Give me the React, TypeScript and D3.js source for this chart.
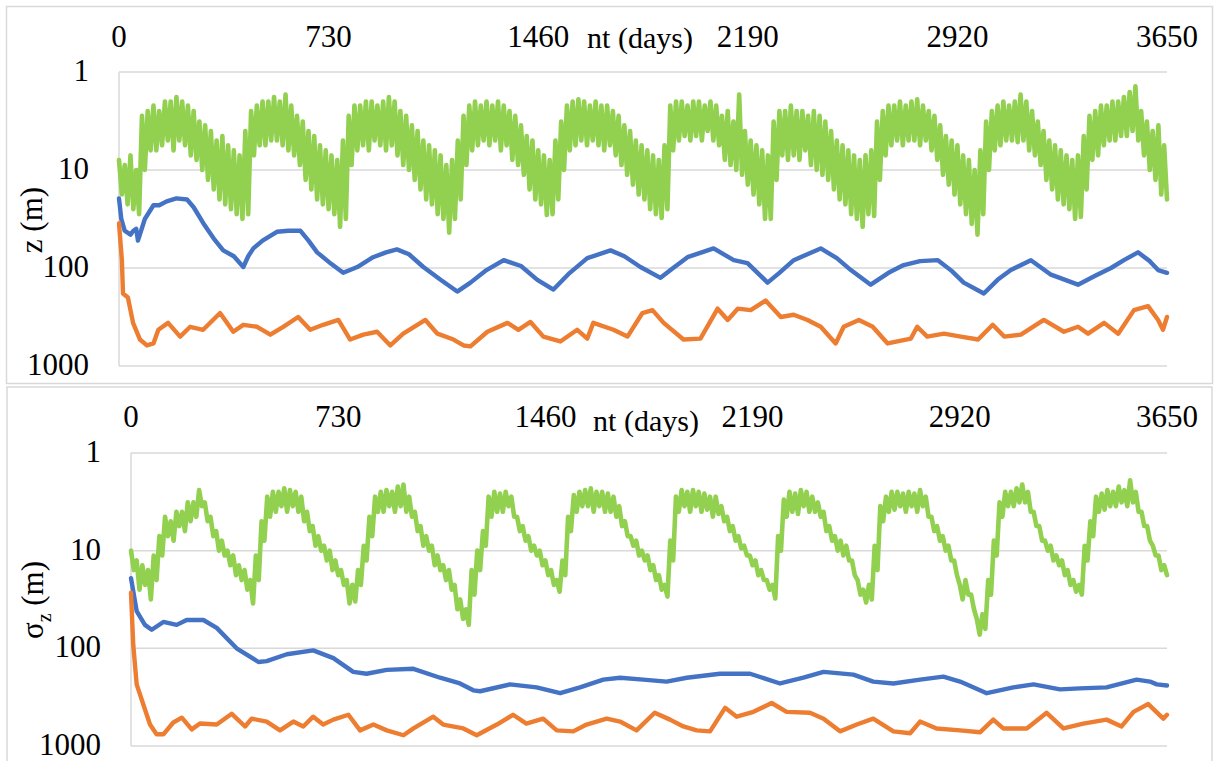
import React from "react";
import * as d3 from "d3";

// x axis (days) and y axis (m, log, reversed)
const xTicks = [0, 730, 1460, 2190, 2920, 3650];
const yTicks = [1, 10, 100, 1000];
const greenStep = 10; // green series read every 10 days (0..3650)

// ---- top panel: z (m) ----
const zGreen = [
  7.9, 17.8, 8.9, 22.4, 7.1, 25.1, 10, 28.2, 2.8, 10, 2.5, 6.3, 2.2, 6.3, 2.5, 5.6, 2.0, 5.0, 2.0, 6.3,
  1.8, 5.0, 2.0, 5.6, 2.2, 7.1, 2.5, 7.9, 3.2, 10, 3.5, 12.6, 4.0, 15.8, 5.0, 20, 4.5, 22.4, 5.6, 25.1,
  6.3, 28.2, 7.1, 31.6, 4.0, 28.2, 2.5, 7.1, 2.2, 5.6, 2.0, 5.6, 2.0, 5.0, 1.8, 5.0, 2.0, 5.6, 1.7, 6.3,
  2.2, 7.1, 2.8, 8.9, 3.2, 12.6, 4.0, 15.8, 4.5, 20, 5.6, 22.4, 6.3, 25.1, 7.1, 28.2, 7.9, 38, 5.0, 31.6,
  2.8, 8.9, 2.2, 6.3, 2.2, 5.6, 2.0, 6.3, 2.0, 5.0, 2.2, 5.6, 2.0, 6.3, 1.8, 5.6, 2.0, 7.1, 2.5, 8.9,
  2.8, 10, 3.5, 12.6, 4.0, 15.8, 5.0, 20, 5.6, 22.4, 6.3, 28.2, 7.1, 31.6, 8.9, 43.7, 7.9, 31.6, 5.0, 20,
  2.8, 8.9, 2.2, 6.3, 2.0, 5.6, 2.2, 5.0, 2.0, 5.6, 2.2, 5.0, 2.0, 6.3, 2.2, 5.6, 2.5, 7.9, 2.8, 8.9,
  3.5, 11.2, 4.5, 15.8, 5.0, 20, 6.3, 22.4, 7.1, 28.8, 7.9, 28.2, 5.0, 20, 3.2, 10, 2.2, 6.3, 2.0, 5.6,
  1.9, 5.0, 2.0, 5.6, 2.2, 5.0, 2.0, 5.6, 2.2, 6.3, 2.2, 5.6, 2.5, 7.1, 2.8, 8.9, 3.5, 11.2, 4.0, 14.1,
  5.0, 17.8, 5.6, 20, 6.3, 25.1, 7.1, 28.2, 7.9, 30.9, 5.6, 25.1, 2.2, 6.3, 2.0, 5.0, 2.0, 4.5, 2.2, 5.0,
  2.0, 4.5, 2.0, 5.0, 2.2, 4.0, 2.0, 5.0, 2.2, 5.6, 2.8, 7.9, 2.5, 8.9, 3.2, 10, 1.7, 11.2, 4.0, 14.1,
  5.0, 17.8, 5.6, 22.4, 6.3, 31.6, 7.1, 31.6, 3.2, 12.6, 2.5, 7.1, 2.5, 7.9, 2.2, 7.1, 2.5, 7.9, 2.5, 6.3,
  2.8, 8.9, 2.5, 10, 2.8, 11.2, 3.2, 12.6, 4.0, 15.8, 5.0, 20, 5.6, 22.4, 6.3, 28.2, 7.1, 31.6, 7.9, 38,
  7.1, 28.2, 6.3, 29.5, 3.2, 12.6, 2.5, 7.1, 2.2, 5.6, 2.2, 5.0, 2.0, 5.6, 2.2, 5.0, 2.0, 5.0, 1.9, 5.6,
  2.2, 5.0, 2.5, 6.3, 2.8, 7.9, 3.5, 11.2, 4.5, 14.1, 5.0, 17.8, 5.6, 22.4, 7.1, 28.2, 7.9, 35.5, 10, 45.7,
  6.3, 28.2, 3.2, 10, 2.5, 6.3, 2.2, 5.6, 2.0, 5.0, 2.2, 5.0, 2.0, 5.2, 1.7, 5.0, 2.0, 6.3, 2.5, 7.1,
  3.2, 8.9, 4.0, 12.6, 5.0, 15.8, 5.6, 20, 6.3, 22.4, 7.1, 25.1, 7.9, 31.6, 7.1, 30.2, 4.5, 15.8, 2.8, 7.9,
  2.5, 7.1, 2.2, 5.6, 2.2, 5.0, 2.0, 5.0, 2.0, 4.5, 1.8, 4.5, 1.6, 4.0, 1.4, 5.0, 2.5, 7.1, 3.2, 10,
  4.0, 12.6, 3.5, 17.8, 5.6, 20,
];

const zBlueDays = [
  0, 8, 20, 40, 50, 60, 66, 90, 120, 140, 166, 200, 237, 260, 293, 330, 363, 400, 433, 450,
  468, 500, 550, 590, 632, 660, 690, 740, 781, 830, 885, 930, 968, 1010, 1060, 1120, 1178, 1224, 1280, 1340,
  1400, 1457, 1513, 1570, 1631, 1712, 1760, 1816, 1886, 1930, 1980, 2071, 2141, 2189, 2259, 2300, 2350, 2444, 2500, 2549,
  2618, 2680, 2733, 2790, 2852, 2900, 2942, 3012, 3060, 3106, 3176, 3246, 3340, 3400, 3455, 3500, 3549, 3590, 3619, 3650,
];
const zBlue = [
  19.5, 31.6, 41.7, 45.7, 41.7, 39.8, 52.5, 31.6, 22.9, 22.9, 20.9, 19.5, 20, 24, 34.7, 50.1, 66.1, 75.9, 97.7, 75.9,
  63.1, 52.5, 42.7, 41.7, 41.7, 52.5, 69.2, 91.2, 112, 97.7, 77.6, 69.2, 64.6, 72.4, 97.7, 132, 174, 141, 105, 83.2,
  95.5, 132, 166, 112, 79.4, 66.1, 75.9, 97.7, 126, 100, 77.6, 63.1, 83.2, 89.1, 141, 112, 83.2, 63.1, 79.4, 105,
  148, 112, 93.3, 85.1, 83.2, 107, 141, 182, 132, 105, 83.2, 117, 148, 120, 100, 83.2, 69.2, 85.1, 105, 112,
];

const zOrangeDays = [
  0, 10, 14, 31, 49, 73, 97, 120, 137, 171, 213, 248, 293, 352, 398, 433, 481, 527, 572, 624,
  666, 711, 764, 805, 851, 899, 945, 990, 1067, 1109, 1165, 1200, 1224, 1283, 1353, 1391, 1433, 1478, 1537, 1596,
  1631, 1652, 1722, 1771, 1823, 1858, 1897, 1966, 2025, 2085, 2120, 2155, 2200, 2252, 2305, 2350, 2398, 2444, 2496, 2524,
  2577, 2625, 2677, 2758, 2780, 2815, 2873, 2932, 2992, 3043, 3083, 3141, 3221, 3291, 3340, 3375, 3431, 3480, 3535, 3584,
  3619, 3636, 3650,
];
const zOrange = [
  35, 83, 182, 200, 363, 537, 617, 589, 427, 363, 501, 398, 427, 288, 447, 380, 398, 479, 398, 316,
  427, 380, 339, 537, 479, 447, 617, 468, 339, 468, 537, 617, 631, 447, 363, 427, 355, 501, 562, 427,
  525, 363, 427, 501, 288, 269, 363, 537, 525, 260, 339, 260, 269, 215, 316, 300, 339, 398, 589, 398,
  339, 398, 589, 525, 398, 501, 468, 501, 537, 380, 501, 479, 339, 447, 398, 468, 363, 468, 269, 245,
  339, 427, 316,
];

// ---- bottom panel: sigma_z (m) ----
const sGreen = [
  10, 15.8, 12.6, 25.1, 14.1, 22.4, 15.8, 31.6, 11.2, 20, 7.1, 11.2, 4.5, 7.1, 5.0, 7.9, 4.0, 5.6, 4.0, 6.3,
  3.2, 5.0, 3.2, 4.5, 2.4, 3.5, 3.2, 5.0, 4.5, 7.1, 6.3, 10, 7.9, 11.2, 10, 14.1, 11.2, 17.8, 14.1, 20,
  15.8, 25.1, 20, 34.7, 11.2, 20, 5.0, 7.9, 2.8, 4.5, 2.5, 4.0, 2.5, 3.5, 2.3, 4.0, 2.4, 3.5, 2.5, 4.0,
  2.8, 5.0, 4.0, 6.3, 5.6, 8.9, 7.1, 10, 8.9, 12.6, 10, 15.8, 12.6, 17.8, 15.8, 22.4, 20, 34.7, 22.4, 33.1,
  15.8, 22.4, 8.9, 12.6, 4.5, 7.1, 2.8, 4.0, 2.5, 4.0, 2.4, 3.5, 2.5, 4.0, 2.2, 3.5, 2.1, 4.0, 2.8, 4.5,
  4.0, 6.3, 5.6, 8.9, 7.1, 10, 8.9, 14.1, 11.2, 15.8, 14.1, 20, 15.8, 25.1, 22.4, 39.8, 31.6, 50.1, 39.8, 57.5,
  15.8, 28.2, 10, 15.8, 6.3, 8.9, 2.8, 4.5, 2.5, 4.0, 2.6, 4.0, 2.5, 3.5, 2.8, 4.5, 4.5, 6.3, 5.6, 7.9,
  7.1, 10, 8.9, 11.2, 10, 14.1, 12.6, 17.8, 15.8, 22.4, 20, 26.3, 12.6, 17.8, 4.5, 6.3, 2.7, 4.0, 2.5, 3.5,
  2.4, 3.5, 2.3, 4.0, 2.5, 3.5, 2.5, 4.0, 2.6, 4.0, 2.8, 4.5, 3.5, 5.6, 5.0, 7.1, 7.1, 8.9, 7.9, 11.2,
  10, 12.6, 11.2, 15.8, 14.1, 20, 17.8, 25.1, 22.4, 29.5, 7.9, 12.6, 2.8, 4.0, 2.4, 3.5, 2.5, 4.0, 2.4, 3.5,
  2.5, 4.0, 2.6, 3.8, 2.8, 4.5, 2.8, 4.2, 3.5, 5.0, 4.5, 6.3, 5.6, 7.9, 7.1, 9.5, 8.9, 11.2, 11.2, 14.1,
  12.6, 17.8, 15.8, 20, 20, 25.1, 22.4, 30.9, 7.1, 10, 3.0, 4.5, 2.5, 4.0, 2.6, 4.2, 2.4, 3.5, 2.5, 4.0,
  2.8, 4.0, 3.2, 4.5, 4.0, 6.3, 5.6, 7.9, 7.1, 10, 7.9, 11.2, 8.9, 12.6, 12.6, 17.8, 20, 28.2, 25.1, 33.9,
  22.4, 31.6, 8.9, 15.8, 3.5, 5.0, 2.8, 4.0, 2.5, 3.8, 2.5, 3.5, 2.6, 4.0, 2.5, 3.5, 2.6, 4.0, 2.4, 3.5,
  2.8, 4.5, 4.5, 6.3, 5.6, 7.9, 7.1, 10, 8.9, 12.6, 12.6, 17.8, 22.4, 31.6, 20, 28.2, 28.2, 39.8, 50.1, 72.4,
  44.7, 63.1, 20, 28.2, 7.9, 11.2, 3.2, 4.5, 2.5, 3.5, 2.5, 3.5, 2.3, 3.2, 2.1, 3.2, 2.5, 4.0, 4.0, 5.6,
  5.6, 7.9, 7.9, 10, 8.9, 12.6, 11.2, 14.1, 12.6, 17.8, 15.8, 22.4, 20, 26.3, 22.4, 28.2, 8.9, 12.6, 5.0, 7.1,
  2.8, 4.0, 2.6, 3.8, 2.4, 3.5, 2.5, 3.5, 2.2, 3.2, 2.4, 3.5, 1.9, 3.2, 2.5, 4.0, 4.0, 5.6, 5.6, 7.9,
  8.9, 11.2, 11.2, 15.8, 14.1, 17.8,
];

const sBlueDays = [
  0, 20, 49, 73, 114, 161, 196, 255, 302, 372, 449, 478, 549, 642, 713, 783, 830, 901, 995, 1089,
  1159, 1206, 1230, 1335, 1429, 1512, 1582, 1664, 1723, 1805, 1887, 1958, 2075, 2181, 2287, 2369, 2440, 2545, 2615, 2686,
  2780, 2862, 2921, 3015, 3109, 3180, 3273, 3343, 3437, 3543, 3590, 3614, 3650,
];
const sBlue = [
  19.1, 41.7, 57.5, 64.6, 53.7, 57.5, 51.3, 51.3, 61.7, 100, 138, 135, 115, 105, 126, 174, 182, 166, 162, 200,
  229, 269, 275, 234, 251, 288, 251, 209, 200, 209, 219, 200, 182, 182, 229, 200, 174, 186, 219, 229,
  209, 195, 219, 288, 251, 234, 263, 257, 251, 209, 219, 234, 240,
];

const sOrangeDays = [
  0, 8, 20, 44, 67, 90, 114, 149, 179, 214, 243, 302, 355, 402, 425, 478, 525, 572, 607, 642,
  677, 713, 766, 807, 854, 901, 960, 995, 1065, 1100, 1171, 1218, 1289, 1346, 1393, 1452, 1500, 1558, 1605, 1676,
  1723, 1781, 1845, 1899, 1946, 1993, 2040, 2093, 2134, 2193, 2257, 2310, 2392, 2440, 2498, 2557, 2615, 2686, 2745, 2780,
  2838, 2921, 2991, 3038, 3073, 3156, 3226, 3285, 3355, 3437, 3490, 3532, 3584, 3637, 3650,
];
const sOrange = [
  27, 93, 234, 380, 603, 759, 759, 575, 513, 676, 589, 603, 468, 631, 525, 562, 692, 562, 631, 501,
  603, 537, 479, 692, 603, 692, 776, 661, 501, 603, 661, 776, 603, 479, 589, 525, 692, 708, 603, 525,
  562, 692, 457, 537, 631, 692, 708, 407, 501, 447, 363, 447, 457, 525, 708, 603, 525, 708, 741, 562,
  661, 692, 724, 537, 661, 661, 457, 661, 589, 537, 631, 447, 372, 525, 479,
];

const GREEN = "#92d050";
const BLUE = "#4472c4";
const ORANGE = "#ed7d31";
const GRID = "#d9d9d9";
const FONT = "'Liberation Serif', 'Times New Roman', serif";

type Pt = [number, number];

function Panel(props: any) {
  const { box, plot, green, blueDays, blue, orangeDays, orange, yLabel, tickBase, titleBase } = props;
  const x = d3.scaleLinear().domain([0, 3650]).range([plot.left, plot.right]);
  const y = d3.scaleLog().domain([1, 1000]).range([plot.top, plot.bottom]);
  const line = d3.line<Pt>().x((d) => x(d[0])).y((d) => y(d[1]));

  const gPts: Pt[] = green.map((v: number, i: number) => [Math.min(i * greenStep, 3650), v]);
  const bPts: Pt[] = blue.map((v: number, i: number) => [blueDays[i], v]);
  const oPts: Pt[] = orange.map((v: number, i: number) => [orangeDays[i], v]);

  const mid = (plot.left + plot.right) / 2 - 3;

  return (
    <g>
      <rect x={box.x} y={box.y} width={box.w} height={box.h} fill="#fff" stroke={GRID} strokeWidth={1.5} />
      {yTicks.map((t) => (
        <line key={t} x1={plot.left} x2={plot.right} y1={y(t)} y2={y(t)} stroke={GRID} strokeWidth={1.5} />
      ))}
      <line x1={plot.left} x2={plot.left} y1={plot.top} y2={plot.bottom} stroke={GRID} strokeWidth={1.5} />

      <path d={line(gPts) || ""} fill="none" stroke={GREEN} strokeWidth={4.6} strokeLinejoin="round" strokeLinecap="round" />
      <path d={line(bPts) || ""} fill="none" stroke={BLUE} strokeWidth={4.4} strokeLinejoin="round" strokeLinecap="round" />
      <path d={line(oPts) || ""} fill="none" stroke={ORANGE} strokeWidth={4.4} strokeLinejoin="round" strokeLinecap="round" />

      <g fontFamily={FONT} fontSize={31} fill="#000">
        {yTicks.map((t) => (
          <text key={t} x={plot.left - 30} y={y(t) + 9} textAnchor="end">
            {t}
          </text>
        ))}
        {xTicks.map((t) => (
          <text key={t} x={x(t)} y={tickBase} textAnchor="middle">
            {t}
          </text>
        ))}
        <text x={mid} y={titleBase} textAnchor="middle" fontSize={30}>
          nt (days)
        </text>
        {yLabel}
      </g>
    </g>
  );
}

export default function App() {
  return (
    <svg
      width={1215}
      height={761}
      viewBox="0 0 1215 761"
      style={{ position: "absolute", left: 0, top: 0, background: "#fff" }}
    >
      <Panel
        box={{ x: 6.5, y: 6.5, w: 1206, h: 377 }}
        plot={{ left: 119, right: 1167, top: 72, bottom: 366 }}
        green={zGreen}
        blueDays={zBlueDays}
        blue={zBlue}
        orangeDays={zOrangeDays}
        orange={zOrange}
        tickBase={47}
        titleBase={48}
        yLabel={
          <text transform="translate(42,220) rotate(-90)" textAnchor="middle">
            z (m)
          </text>
        }
      />
      <Panel
        box={{ x: 7, y: 387, w: 1205, h: 380 }}
        plot={{ left: 131, right: 1167, top: 453, bottom: 746 }}
        green={sGreen}
        blueDays={sBlueDays}
        blue={sBlue}
        orangeDays={sOrangeDays}
        orange={sOrange}
        tickBase={427}
        titleBase={431}
        yLabel={
          <text transform="translate(43,600) rotate(-90)" textAnchor="middle">
            σ
            <tspan fontSize={20} dy={8}>
              z
            </tspan>
            <tspan dy={-8}> (m)</tspan>
          </text>
        }
      />
    </svg>
  );
}
